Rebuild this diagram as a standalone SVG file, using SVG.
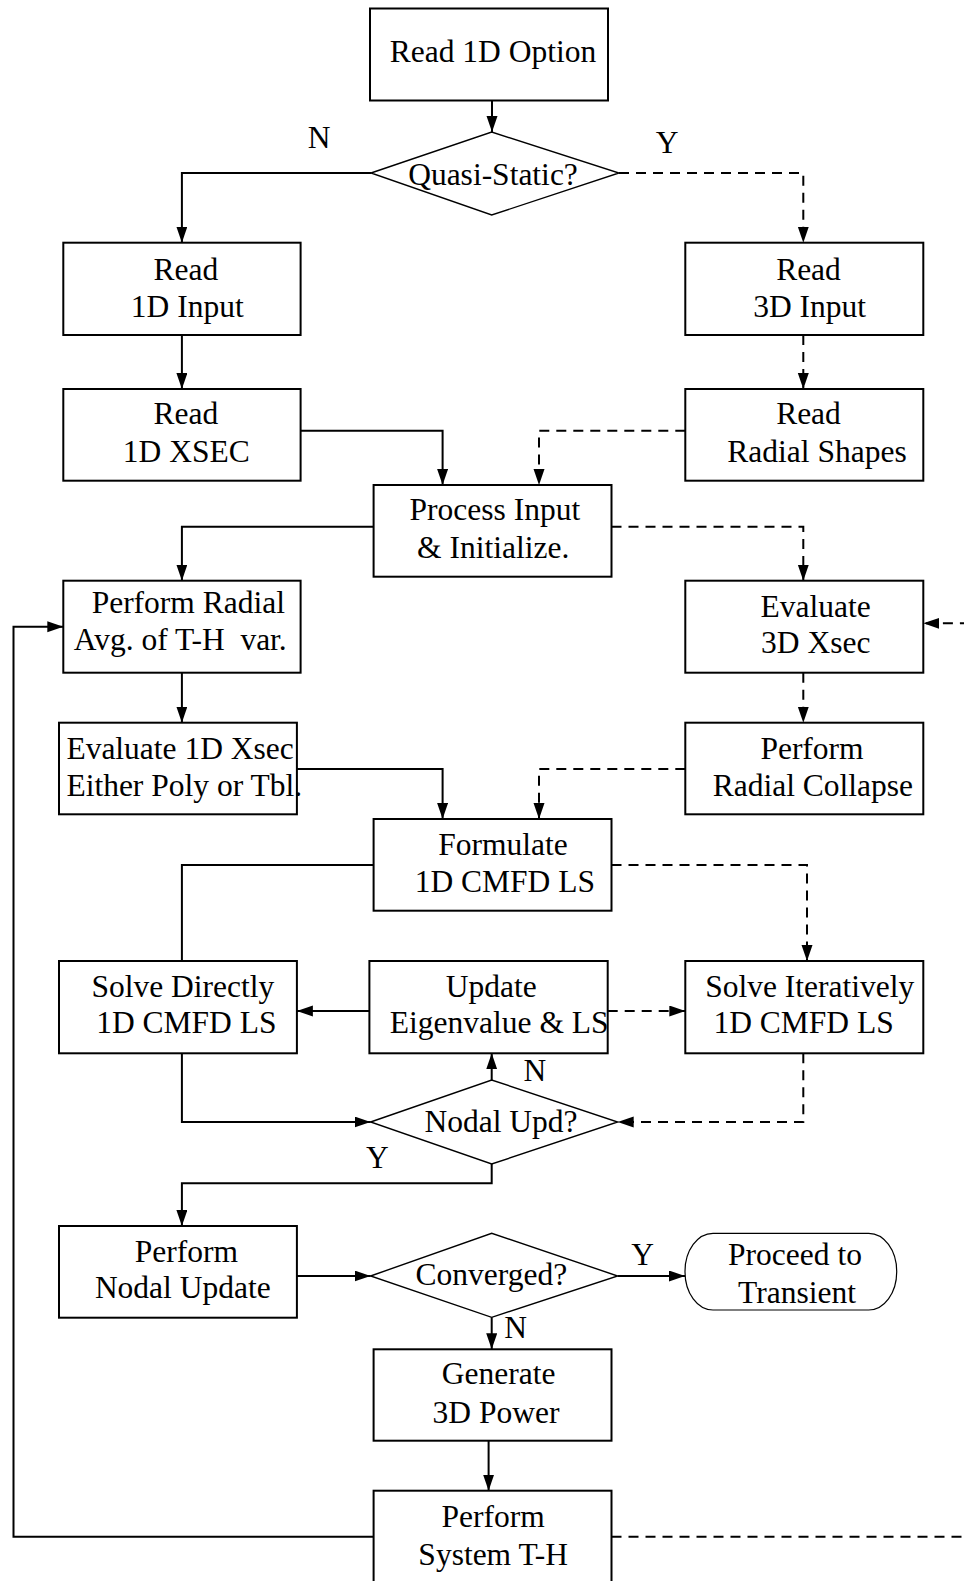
<svg xmlns="http://www.w3.org/2000/svg" width="964" height="1581" viewBox="0 0 964 1581">
<defs>
<style>
.box{fill:#fff;stroke:#000;stroke-width:2}
.dia{fill:#fff;stroke:#000;stroke-width:1.4}
.term{fill:#fff;stroke:#000;stroke-width:1.2}
.t{font-family:"Liberation Serif","Times New Roman",serif;font-size:31.5px;fill:#000;text-anchor:middle}
.ts{font-family:"Liberation Serif","Times New Roman",serif;font-size:31.5px;fill:#000;text-anchor:start}
.c{fill:none;stroke:#000;stroke-width:2}
.d{fill:none;stroke:#000;stroke-width:2;stroke-dasharray:10,7}
</style>
<marker id="ah" markerUnits="userSpaceOnUse" markerWidth="17" markerHeight="12" refX="16" refY="5.5" orient="auto">
<path d="M0,0 L16,5.5 L0,11 z" fill="#000"/>
</marker>
</defs>

<g id="connectors">
<path class="c" d="M492,100.5 V132" marker-end="url(#ah)"/>
<path class="c" d="M371,173 H181.9 V242.7" marker-end="url(#ah)"/>
<path class="d" d="M619,173 H803.3 V242.7" marker-end="url(#ah)"/>
<path class="c" d="M181.9,335 V389" marker-end="url(#ah)"/>
<path class="d" d="M803.3,335 V389" marker-end="url(#ah)"/>
<path class="c" d="M300.6,430.7 H442.6 V485" marker-end="url(#ah)"/>
<path class="d" d="M685.3,430.7 H539 V485" marker-end="url(#ah)"/>
<path class="c" d="M373.6,526.7 H181.9 V580.7" marker-end="url(#ah)"/>
<path class="d" d="M611.5,526.7 H803.3 V580.7" marker-end="url(#ah)"/>
<path class="c" d="M181.9,672.7 V722.7" marker-end="url(#ah)"/>
<path class="d" d="M803.3,672.7 V722.7" marker-end="url(#ah)"/>
<path class="c" d="M296.9,769 H442.6 V819" marker-end="url(#ah)"/>
<path class="d" d="M685.3,769 H539 V819" marker-end="url(#ah)"/>
<path class="c" d="M373.6,865 H181.9 V961"/>
<path class="d" d="M611.5,865 H807 V961" marker-end="url(#ah)"/>
<path class="c" d="M369.4,1011 H296.9" marker-end="url(#ah)"/>
<path class="d" d="M607.7,1011 H685.3" marker-end="url(#ah)"/>
<path class="c" d="M491.7,1080 V1053.3" marker-end="url(#ah)"/>
<path class="c" d="M181.9,1053.3 V1122 H370.6" marker-end="url(#ah)"/>
<path class="d" d="M803.3,1053.3 V1122 H617.7" marker-end="url(#ah)"/>
<path class="c" d="M491.7,1164 V1183.3 H181.9 V1226" marker-end="url(#ah)"/>
<path class="c" d="M296.9,1276 H370.6" marker-end="url(#ah)"/>
<path class="c" d="M617.7,1276 H685" marker-end="url(#ah)"/>
<path class="c" d="M491.7,1317.3 V1349.3" marker-end="url(#ah)"/>
<path class="c" d="M488.6,1440.7 V1490.7" marker-end="url(#ah)"/>
<path class="c" d="M373.6,1536.7 H13.5 V626.7 H63.3" marker-end="url(#ah)"/>
<path class="d" d="M611.5,1536.7 H980 V623.3 H923.3" marker-end="url(#ah)"/>
<text class="t" x="319" y="148">N</text>
<text class="t" x="667" y="153">Y</text>
<text class="t" x="534.8" y="1081">N</text>
<text class="t" x="377.3" y="1168">Y</text>
<text class="t" x="642.6" y="1265">Y</text>
<text class="t" x="515.7" y="1338">N</text>
</g>

<g id="n_read1d_option">
<rect class="box" x="370" y="8.5" width="238" height="92"/>
<text class="t" x="493" y="61.5">Read 1D Option</text>
</g>
<g id="n_quasi">
<polygon class="dia" points="371,173 491.7,132 619,173 491.7,215"/>
<text class="t" x="493" y="185">Quasi-Static?</text>
</g>
<g id="n_read1d_input">
<rect class="box" x="63.3" y="242.7" width="237.3" height="92.3"/>
<text class="t" x="185.9" y="280">Read</text>
<text class="t" x="187.3" y="317">1D Input</text>
</g>
<g id="n_read3d_input">
<rect class="box" x="685.3" y="242.7" width="238" height="92.3"/>
<text class="t" x="808.5" y="280">Read</text>
<text class="t" x="809.7" y="317">3D Input</text>
</g>
<g id="n_read1d_xsec">
<rect class="box" x="63.3" y="389" width="237.3" height="91.7"/>
<text class="t" x="185.9" y="424">Read</text>
<text class="t" x="186.3" y="462">1D XSEC</text>
</g>
<g id="n_read_radial">
<rect class="box" x="685.3" y="389" width="238" height="91.7"/>
<text class="t" x="808.5" y="424">Read</text>
<text class="t" x="817" y="462">Radial Shapes</text>
</g>
<g id="n_process">
<rect class="box" x="373.6" y="485" width="237.9" height="91.7"/>
<text class="t" x="494.9" y="520">Process Input</text>
<text class="t" x="493.2" y="558">&amp; Initialize.</text>
</g>
<g id="n_perf_radial">
<rect class="box" x="63.3" y="580.7" width="237.3" height="92"/>
<text class="t" x="188.3" y="613">Perform Radial</text>
<text class="t" x="180.3" y="650" xml:space="preserve">Avg. of T-H  var.</text>
</g>
<g id="n_eval3d">
<rect class="box" x="685.3" y="580.7" width="238" height="92"/>
<text class="t" x="815.7" y="616.7">Evaluate</text>
<text class="t" x="815.7" y="653.3">3D Xsec</text>
</g>
<g id="n_eval1d">
<rect class="box" x="59" y="722.7" width="237.9" height="91.6"/>
<text class="ts" x="66.4" y="759.3">Evaluate 1D Xsec</text>
<text class="ts" x="66.4" y="795.7">Either Poly or Tbl.</text>
</g>
<g id="n_radial_collapse">
<rect class="box" x="685.3" y="722.7" width="238" height="91.6"/>
<text class="t" x="812" y="759.3">Perform</text>
<text class="t" x="812.9" y="795.7">Radial Collapse</text>
</g>
<g id="n_formulate">
<rect class="box" x="373.6" y="819" width="237.9" height="91.7"/>
<text class="t" x="503.1" y="855">Formulate</text>
<text class="t" x="504.8" y="891.7">1D CMFD LS</text>
</g>
<g id="n_solve_direct">
<rect class="box" x="59" y="961" width="237.9" height="92.3"/>
<text class="t" x="182.8" y="996.7">Solve Directly</text>
<text class="t" x="186.3" y="1033.3">1D CMFD LS</text>
</g>
<g id="n_update">
<rect class="box" x="369.4" y="961" width="238.3" height="92.3"/>
<text class="t" x="491.2" y="996.7">Update</text>
<text class="t" x="499.2" y="1033.3">Eigenvalue &amp; LS</text>
</g>
<g id="n_solve_iter">
<rect class="box" x="685.3" y="961" width="238" height="92.3"/>
<text class="t" x="809.7" y="996.7">Solve Iteratively</text>
<text class="t" x="803.6" y="1033.3">1D CMFD LS</text>
</g>
<g id="n_nodal_upd">
<polygon class="dia" points="370.6,1122 491.7,1080 617.7,1122 491.7,1164"/>
<text class="t" x="501" y="1131.7">Nodal Upd?</text>
</g>
<g id="n_nodal_update">
<rect class="box" x="59" y="1226" width="237.9" height="91.7"/>
<text class="t" x="186.3" y="1261.7">Perform</text>
<text class="t" x="182.8" y="1298.3">Nodal Update</text>
</g>
<g id="n_converged">
<polygon class="dia" points="370.6,1276 491.7,1233.3 617.7,1276 491.7,1317.3"/>
<text class="t" x="491.4" y="1285">Converged?</text>
</g>
<g id="n_proceed">
<rect class="term" x="685" y="1233.3" width="211.7" height="76.7" rx="28" ry="38"/>
<text class="t" x="795" y="1265">Proceed to</text>
<text class="t" x="797" y="1302.7">Transient</text>
</g>
<g id="n_generate">
<rect class="box" x="373.6" y="1349.3" width="237.9" height="91.4"/>
<text class="t" x="498.7" y="1384.3">Generate</text>
<text class="t" x="496" y="1422.7">3D Power</text>
</g>
<g id="n_system_th">
<rect class="box" x="373.6" y="1490.7" width="237.9" height="95"/>
<text class="t" x="493.2" y="1526.7">Perform</text>
<text class="t" x="493.2" y="1565">System T-H</text>
</g>
</svg>
